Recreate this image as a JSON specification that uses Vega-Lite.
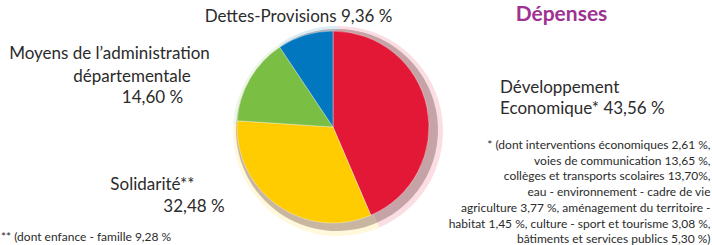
{
  "$schema": "https://vega.github.io/schema/vega-lite/v6.json",
  "width": 666,
  "height": 236,
  "autosize": {"type": "none"},
  "padding": {"left": 0, "top": 9, "right": 46, "bottom": 0},
  "background": "#ffffff",
  "config": {"view": {"stroke": null}, "text": {"font": "Lato", "color": "#2b2b2b"}},
  "layer": [
    {
      "data": {
        "values": [
          {"poste": "Développement Economique", "pct": 43.56, "rang": 1, "l1": "Développement", "l2": "Economique* 43,56 %", "l3": "", "note": "* (dont interventions économiques 2,61 %,\nvoies de communication 13,65 %,\ncollèges et transports scolaires 13,70%,\neau - environnement - cadre de vie\nagriculture 3,77 %, aménagement du territoire -\nhabitat 1,45 %, culture - sport et tourisme 3,08 %,\nbâtiments et services publics 5,30 %)"},
          {"poste": "Solidarité", "pct": 32.48, "rang": 2, "l1": "Solidarité**", "l2": "32,48 %", "l3": "", "note": "** (dont enfance - famille 9,28 %"},
          {"poste": "Moyens de l’administration départementale", "pct": 14.60, "rang": 3, "l1": "Moyens de l’administration", "l2": "départementale", "l3": "14,60 %", "note": ""},
          {"poste": "Dettes-Provisions", "pct": 9.36, "rang": 4, "l1": "Dettes-Provisions 9,36 %", "l2": "", "l3": "", "note": ""}
        ]
      },
      "encoding": {
        "theta": {"field": "pct", "type": "quantitative", "stack": true},
        "order": {"field": "rang", "type": "quantitative"}
      },
      "layer": [
        {
          "mark": {"type": "arc", "outerRadius": 105, "xOffset": 5, "yOffset": 4, "opacity": 0.14},
          "encoding": {"color": {"field": "poste", "type": "nominal", "legend": null, "scale": {"domain": ["Développement Economique", "Solidarité", "Moyens de l’administration départementale", "Dettes-Provisions"], "range": ["#e31837", "#fecc00", "#7abe43", "#0077be"]}}}
        },
        {
          "mark": {"type": "arc", "outerRadius": 101, "xOffset": 4, "yOffset": 3, "opacity": 0.28, "color": "#3a0a0a"}
        },
        {
          "mark": {"type": "arc", "outerRadius": 96, "stroke": "#ffffff", "strokeWidth": 0.6, "strokeOpacity": 0.6},
          "encoding": {"color": {"field": "poste", "type": "nominal", "legend": null}}
        },
        {
          "mark": {"type": "text", "radius": 110, "align": "center", "baseline": "alphabetic", "dx": -2.6, "dy": 0.3, "fontSize": 17},
          "encoding": {"text": {"condition": {"test": "datum.rang === 4", "field": "l1"}, "value": ""}}
        },
        {
          "mark": {"type": "text", "radius": 120, "align": "center", "baseline": "alphabetic", "dx": -119.6, "dy": -8, "fontSize": 17},
          "encoding": {"text": {"condition": {"test": "datum.rang === 3", "field": "l1"}, "value": ""}}
        },
        {
          "mark": {"type": "text", "radius": 120, "align": "center", "baseline": "alphabetic", "dx": -97.1, "dy": 15, "fontSize": 17},
          "encoding": {"text": {"condition": {"test": "datum.rang === 3", "field": "l2"}, "value": ""}}
        },
        {
          "mark": {"type": "text", "radius": 120, "align": "center", "baseline": "alphabetic", "dx": -76.6, "dy": 36, "fontSize": 17},
          "encoding": {"text": {"condition": {"test": "datum.rang === 3", "field": "l3"}, "value": ""}}
        },
        {
          "mark": {"type": "text", "radius": 170, "align": "left", "baseline": "alphabetic", "dx": 0.5, "dy": 0.2, "fontSize": 17},
          "encoding": {"text": {"condition": {"test": "datum.rang === 1", "field": "l1"}, "value": ""}}
        },
        {
          "mark": {"type": "text", "radius": 170, "align": "left", "baseline": "alphabetic", "dx": 0.5, "dy": 21.2, "fontSize": 17},
          "encoding": {"text": {"condition": {"test": "datum.rang === 1", "field": "l2"}, "value": ""}}
        },
        {
          "mark": {"type": "text", "radius": 170, "align": "right", "baseline": "alphabetic", "dx": 211, "dy": 56.2, "fontSize": 12, "lineBreak": "\n", "lineHeight": 15.7},
          "encoding": {"text": {"condition": {"test": "datum.rang === 1", "field": "note"}, "value": ""}}
        },
        {
          "mark": {"type": "text", "radius": 110, "align": "center", "baseline": "alphabetic", "dx": -117, "dy": -26.8, "fontSize": 17},
          "encoding": {"text": {"condition": {"test": "datum.rang === 2", "field": "l1"}, "value": ""}}
        },
        {
          "mark": {"type": "text", "radius": 110, "align": "center", "baseline": "alphabetic", "dx": -75.5, "dy": -4.8, "fontSize": 17},
          "encoding": {"text": {"condition": {"test": "datum.rang === 2", "field": "l2"}, "value": ""}}
        },
        {
          "mark": {"type": "text", "radius": 110, "align": "left", "baseline": "alphabetic", "dx": -268.5, "dy": 24.5, "fontSize": 12},
          "encoding": {"text": {"condition": {"test": "datum.rang === 2", "field": "note"}, "value": ""}}
        }
      ]
    },
    {
      "data": {"values": [{"titre": "Dépenses"}]},
      "mark": {"type": "text", "align": "center", "baseline": "alphabetic", "dx": 228.5, "dy": -106, "fontSize": 21, "fontWeight": "bold", "color": "#a03291"},
      "encoding": {"text": {"field": "titre"}}
    }
  ]
}
